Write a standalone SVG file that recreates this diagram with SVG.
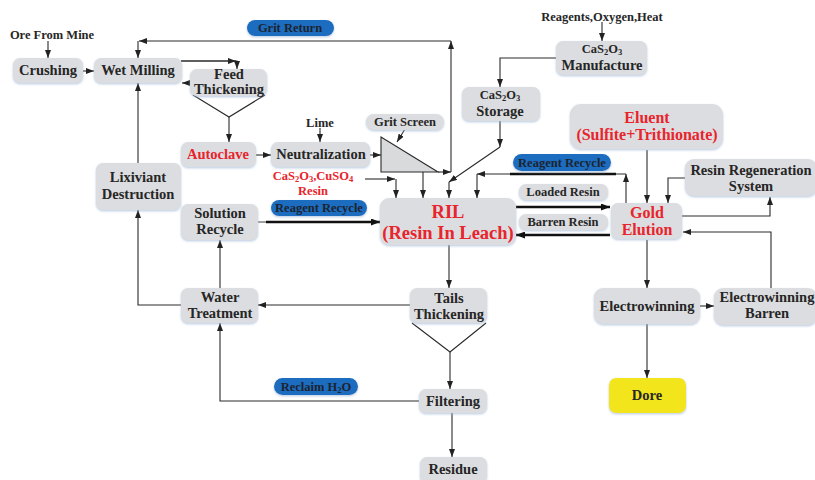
<svg xmlns="http://www.w3.org/2000/svg" width="815" height="480" viewBox="0 0 815 480">
  <defs>
    <marker id="arr" viewBox="0 0 8 6" refX="8" refY="3" markerWidth="8" markerHeight="6" markerUnits="userSpaceOnUse" orient="auto">
      <path d="M0,0 L8,3 L0,6 z" fill="#222"/>
    </marker>
    <marker id="arrB" viewBox="0 0 9 7" refX="9" refY="3.5" markerWidth="9" markerHeight="7" markerUnits="userSpaceOnUse" orient="auto">
      <path d="M0,0 L9,3.5 L0,7 z" fill="#111"/>
    </marker>
    <filter id="sh" x="-10%" y="-10%" width="120%" height="130%">
      <feDropShadow dx="0" dy="1.2" stdDeviation="0.9" flood-color="#9fb6d6" flood-opacity="0.7"/>
    </filter>
  </defs>
  <style>
    .box { fill: #dcdde0; filter: url(#sh); }
    .tag { fill: #1a6cc0; filter: url(#sh); }
    .dore { fill: #f2e51a; filter: url(#sh); }
    text { font-family: "Liberation Serif", "Times New Roman", serif; font-weight: bold; text-anchor: middle; }
    .t { font-size: 14.5px; fill: #262626; }
    .s { font-size: 12.5px; fill: #262626; }
    .tg { font-size: 12.5px; fill: #1c2430; }
    .r { fill: #e8242c; }
    .c { fill: none; stroke: #2a2a2a; stroke-width: 1.1; }
    .a { marker-end: url(#arr); }
    .k { fill: none; stroke: #111; stroke-width: 2.6; marker-end: url(#arrB); }
  </style>

  <rect width="815" height="480" fill="#ffffff"/>

  <!-- connectors -->
  <g id="connectors">
    <path class="c a" d="M48,41 V58"/>
    <path class="c a" d="M83,71 H94"/>
    <path class="c a" d="M181,61 H236"/>
    <path class="c a" d="M181,61 H237 V69"/>
    <path class="c a" d="M190,83 H182"/>
    <polyline class="c" points="193,95 229,117 265,95"/>
    <path class="c a" d="M229,117 V142"/>
    <path class="c a" d="M256,155 H271"/>
    <path class="c a" d="M320,128 V142"/>
    <path class="c a" d="M370,155 H381"/>
    <path class="c a" d="M405,129 L397,142"/>
    <!-- grit return loop -->
    <path class="c a" d="M438,172 H451"/>
    <path class="c a" d="M451,172 V41"/>
    <path class="c a" d="M451,41 H139"/>
    <path class="c a" d="M138,41 V58"/>
    <path class="c a" d="M423,172 V198"/>
    <path class="c a" d="M365,179 H395"/>
    <path class="c a" d="M396,179 V198"/>
    <!-- storage feed to RIL -->
    <path class="c a" d="M500,121 V147"/>
    <path class="c a" d="M500,147 L449,182"/>
    <path class="c a" d="M449,182 V198"/>
    <!-- reagent recycle from elution -->
    <path class="c a" d="M626,203 V174"/>
    <path class="c a" d="M626,174 H477"/>
    <path class="c a" d="M477,174 V198"/>
    <path d="M510,174 H616" stroke="#111" stroke-width="2.4"/>
    <path class="k" d="M516,207 H610"/>
    <path class="k" d="M610,235 H516"/>
    <path class="c a" d="M647,150 V203"/>
    <path class="c a" d="M686,178 H668 V203"/>
    <path class="c a" d="M682,216 H770 V197"/>
    <path class="c a" d="M771,288 V232 H683"/>
    <path class="c a" d="M647,240 V288"/>
    <path class="c a" d="M700,306 H714"/>
    <path class="c a" d="M647,324 V378"/>
    <path class="c a" d="M602,22 V41"/>
    <path class="c a" d="M556,58 H500 V87"/>
    <path class="c a" d="M138,163 V83"/>
    <path class="c a" d="M181,305 H138 V210"/>
    <path class="c a" d="M220,288 V240"/>
    <path d="M258,222 H267" stroke="#777" stroke-width="1.4"/>
    <path class="k" d="M266,222 H380"/>
    <path class="c a" d="M449,245 V288"/>
    <path class="c a" d="M410,305 H258"/>
    <polyline class="c" points="412,323 450,352 486,323"/>
    <path class="c a" d="M450,352 V389"/>
    <path class="c a" d="M419,401 H220 V323"/>
    <path class="c a" d="M452,413 V457"/>
  </g>

  <!-- free labels -->
  <g id="inputs">
    <text class="s" x="52" y="39">Ore From Mine</text>
    <text class="s" x="320" y="127">Lime</text>
    <text class="s" x="602" y="21">Reagents,Oxygen,Heat</text>
    <text class="s r" x="313" y="180" font-size="13">CaS<tspan font-size="8.5" dy="2">2</tspan><tspan dy="-2">O</tspan><tspan font-size="8.5" dy="2">3</tspan><tspan dy="-2">,CuSO</tspan><tspan font-size="8.5" dy="2">4</tspan></text>
    <text class="s r" x="313" y="195" font-size="13">Resin</text>
  </g>

  <!-- tags on streams -->
  <g id="tag-grit-return"><rect class="tag" x="247" y="20" width="87" height="16" rx="8"/><text class="tg" x="290" y="32">Grit Return</text></g>
  <g id="tag-reagent-recycle-1"><rect class="tag" x="271" y="200" width="96" height="16" rx="8"/><text class="tg" x="319" y="212">Reagent Recycle</text></g>
  <g id="tag-reagent-recycle-2"><rect class="tag" x="513" y="154" width="98" height="17" rx="8.5"/><text class="tg" x="562" y="166.5">Reagent Recycle</text></g>
  <g id="tag-reclaim"><rect class="tag" x="274" y="378" width="84" height="17" rx="8.5"/><text class="tg" x="316" y="390.5">Reclaim H<tspan font-size="8.5" dy="2">2</tspan><tspan dy="-2">O</tspan></text></g>
  <g id="tag-loaded-resin"><rect class="box" x="519" y="184" width="89" height="16" rx="7"/><text class="s" x="563" y="196">Loaded Resin</text></g>
  <g id="tag-barren-resin"><rect class="box" x="519" y="214" width="89" height="16" rx="7"/><text class="s" x="563" y="226">Barren Resin</text></g>
  <g id="tag-grit-screen"><rect class="box" x="366" y="114" width="78" height="16" rx="8"/><text class="s" x="405" y="126">Grit Screen</text></g>

  <!-- process nodes -->
  <g id="crushing"><rect class="box" x="13" y="58" width="70" height="25" rx="7"/><text class="t" x="48" y="75">Crushing</text></g>
  <g id="wet-milling"><rect class="box" x="94" y="58" width="88" height="25" rx="7"/><text class="t" x="138" y="75">Wet Milling</text></g>
  <g id="feed-thickening"><rect class="box" x="190" y="69" width="77" height="27" rx="7"/><text class="t" x="229" y="79">Feed</text><text class="t" x="229" y="94">Thickening</text></g>
  <g id="autoclave"><rect class="box" x="181" y="142" width="75" height="25" rx="7"/><text class="t r" x="218" y="159">Autoclave</text></g>
  <g id="neutralization"><rect class="box" x="271" y="142" width="99" height="25" rx="7"/><text class="t" x="321" y="159">Neutralization</text></g>
  <g id="grit-screen"><polygon points="381,137 381,172 438,172" fill="#d9dadc" stroke="#2a2a2a" stroke-width="1.1"/></g>
  <g id="lixiviant-destruction"><rect class="box" x="96" y="163" width="85" height="47" rx="7"/><text class="t" x="138" y="182">Lixiviant</text><text class="t" x="138" y="199">Destruction</text></g>
  <g id="solution-recycle"><rect class="box" x="181" y="204" width="77" height="36" rx="7"/><text class="t" x="220" y="218">Solution</text><text class="t" x="220" y="234">Recycle</text></g>
  <g id="water-treatment"><rect class="box" x="181" y="288" width="77" height="35" rx="7"/><text class="t" x="220" y="302">Water</text><text class="t" x="220" y="318">Treatment</text></g>
  <g id="ril"><rect class="box" x="380" y="198" width="136" height="47" rx="9"/><text class="r" x="448" y="218" font-size="18.5">RIL</text><text class="r" x="448" y="239" font-size="18.5">(Resin In Leach)</text></g>
  <g id="storage"><rect class="box" x="462" y="87" width="78" height="34" rx="7"/><text class="s" x="500" y="99">CaS<tspan font-size="8.5" dy="2">2</tspan><tspan dy="-2">O</tspan><tspan font-size="8.5" dy="2">3</tspan></text><text class="t" x="500" y="116">Storage</text></g>
  <g id="manufacture"><rect class="box" x="556" y="41" width="91" height="34" rx="7"/><text class="s" x="602" y="53">CaS<tspan font-size="8.5" dy="2">2</tspan><tspan dy="-2">O</tspan><tspan font-size="8.5" dy="2">3</tspan></text><text class="t" x="602" y="70">Manufacture</text></g>
  <g id="eluent"><rect class="box" x="570" y="104" width="153" height="45" rx="11"/><text class="r" x="647" y="123" font-size="16">Eluent</text><text class="r" x="647" y="140" font-size="16">(Sulfite+Trithionate)</text></g>
  <g id="resin-regeneration"><rect class="box" x="685" y="159" width="132" height="37" rx="9"/><text class="t" x="751" y="175">Resin Regeneration</text><text class="t" x="751" y="191">System</text></g>
  <g id="gold-elution"><rect class="box" x="611" y="203" width="71" height="36" rx="7"/><text class="r" x="647" y="218" font-size="16">Gold</text><text class="r" x="647" y="235" font-size="16">Elution</text></g>
  <g id="tails-thickening"><rect class="box" x="410" y="288" width="77" height="35" rx="7"/><text class="t" x="449" y="303">Tails</text><text class="t" x="449" y="319">Thickening</text></g>
  <g id="filtering"><rect class="box" x="419" y="389" width="68" height="24" rx="7"/><text class="t" x="453" y="406">Filtering</text></g>
  <g id="residue"><rect class="box" x="420" y="457" width="67" height="26" rx="7"/><text class="t" x="453" y="474">Residue</text></g>
  <g id="electrowinning"><rect class="box" x="594" y="288" width="106" height="36" rx="9"/><text class="t" x="647" y="311">Electrowinning</text></g>
  <g id="electrowinning-barren"><rect class="box" x="714" y="288" width="103" height="37" rx="9"/><text class="t" x="767" y="302">Electrowinning</text><text class="t" x="767" y="318">Barren</text></g>
  <g id="dore"><rect class="dore" x="609" y="378" width="77" height="35" rx="7"/><text class="t" x="647" y="400">Dore</text></g>
</svg>
